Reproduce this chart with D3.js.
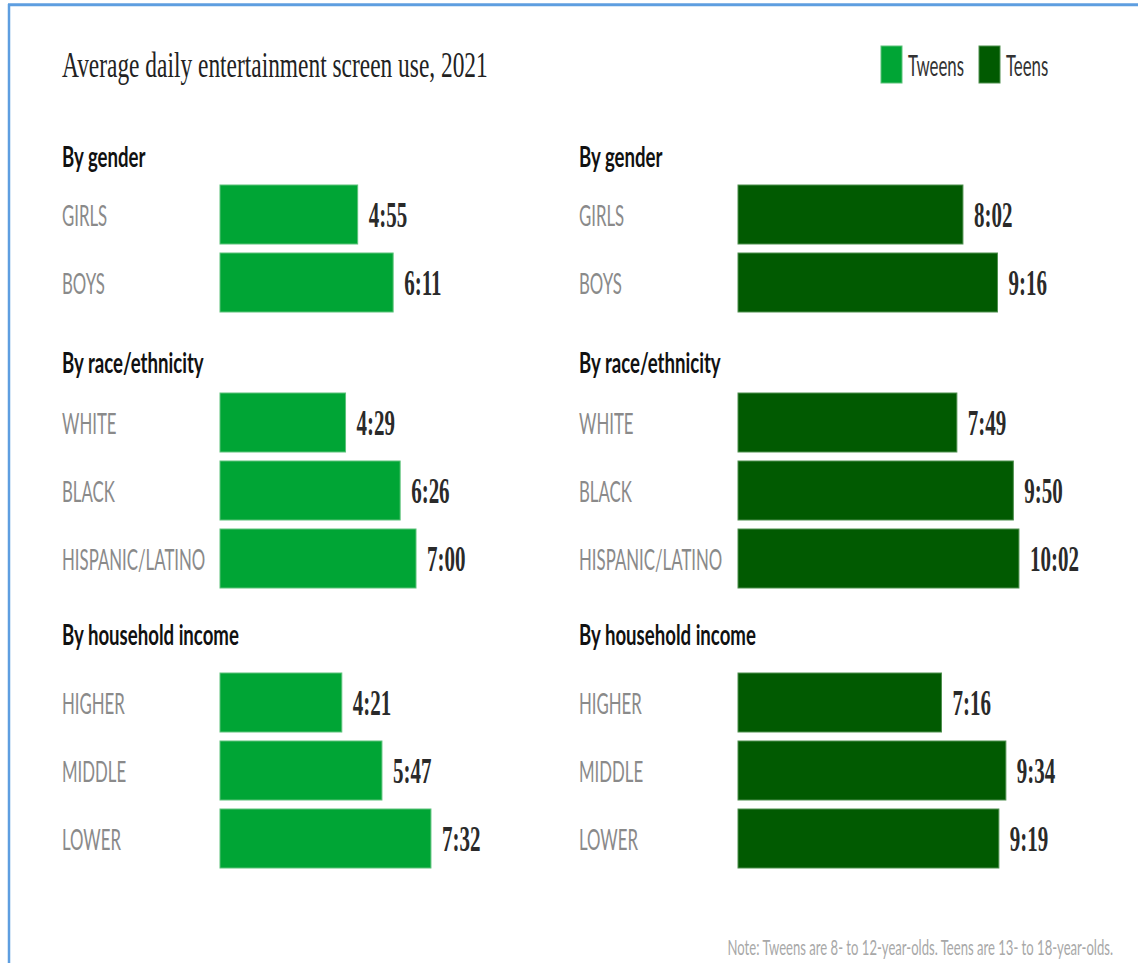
<!DOCTYPE html>
<html>
<head>
<meta charset="utf-8">
<script src="https://cdn.jsdelivr.net/npm/d3@7"></script>
<style>
  html, body { margin: 0; padding: 0; background: #fff; }
  svg { display: block; }
</style>
</head>
<body>
<div id="chart"></div>
<script>
// data (hours:minutes)
const groups = ["By gender", "By race/ethnicity", "By household income"];
const categories = [
    ["GIRLS", "BOYS"],
    ["WHITE", "BLACK", "HISPANIC/LATINO"],
    ["HIGHER", "MIDDLE", "LOWER"]
];
const tweens = [
    ["4:55", "6:11"],
    ["4:29", "6:26", "7:00"],
    ["4:21", "5:47", "7:32"]
];
const teens = [
    ["8:02", "9:16"],
    ["7:49", "9:50", "10:02"],
    ["7:16", "9:34", "9:19"]
];
const seriesNames = ["Tweens", "Teens"];
const title = "Average daily entertainment screen use, 2021";
const note = "Note: Tweens are 8- to 12-year-olds. Teens are 13- to 18-year-olds.";

const toMinutes = s => { const p = s.split(':'); return +p[0] * 60 + +p[1]; };

const W = 1138, H = 963;
const color = d3.scaleOrdinal(seriesNames, ["#00a535", "#015a01"]);
const stroke = d3.scaleOrdinal(seriesNames, ["#5cc27a", "#4f8f4f"]);

const svg = d3.select('#chart').append('svg')
    .attr('width', W)
    .attr('height', H);

// blue frame
svg.append('line').attr('x1', 9).attr('x2', 9).attr('y1', 4).attr('y2', H)
    .attr('stroke', '#5e9ee0').attr('stroke-width', 2.5);
svg.append('line').attr('x1', 8).attr('x2', W).attr('y1', 4.8).attr('y2', 4.8)
    .attr('stroke', '#5e9ee0').attr('stroke-width', 3);

// the picture is horizontally squeezed, so text gets a narrow x-scale
function addText(g, x, y, txt, opts) {
    const sx = opts.sx || 0.6;
    return g.append('text')
        .attr('transform', 'translate(' + x + ',' + y + ') scale(' + sx + ',1)')
        .attr('font-family', opts.family || 'Lato, sans-serif')
        .attr('font-size', opts.size)
        .attr('font-weight', opts.weight || 'normal')
        .attr('fill', opts.fill || '#333')
        .attr('text-anchor', opts.anchor || 'start')
        .text(txt);
}

addText(svg, 62, 77, title, { family: '"Liberation Serif", serif', size: 36, fill: '#222', sx: 0.65 });

// legend
const legend = svg.append('g');
const legendX = [881, 979];
seriesNames.forEach((s, i) => {
    legend.append('rect')
        .attr('x', legendX[i]).attr('y', 46)
        .attr('width', 21).attr('height', 37)
        .attr('fill', color(s))
        .attr('stroke', stroke(s)).attr('stroke-width', 1);
    addText(legend, legendX[i] + 27, 76, s, { size: 29, fill: '#333', sx: 0.58 });
});

// layout of sections
const headingY = [167, 373, 645];
const barTop = [185, 393, 673];
const step = 68, barH = 59;
const x = d3.scaleLinear().domain([0, 600]).range([0, 280]);

const panels = [
    { name: 'Tweens', values: tweens, labelX: 62, barX: 220 },
    { name: 'Teens', values: teens, labelX: 579, barX: 738 }
];

panels.forEach(p => {
    const g = svg.append('g');
    groups.forEach((grp, gi) => {
        addText(g, p.labelX, headingY[gi], grp, { size: 28, weight: 'bold', fill: '#111', sx: 0.665 });
        const rows = categories[gi].map((c, ci) => ({ cat: c, val: p.values[gi][ci], i: ci }));
        const y = d3.scaleBand()
            .domain(d3.range(rows.length))
            .range([barTop[gi], barTop[gi] + step * (rows.length - 1) + barH])
            .paddingInner((step - barH) / step)
            .paddingOuter(0);

        g.selectAll(null)
            .data(rows)
            .join('rect')
            .attr('x', p.barX)
            .attr('y', d => y(d.i))
            .attr('width', d => x(toMinutes(d.val)))
            .attr('height', y.bandwidth())
            .attr('fill', color(p.name))
            .attr('stroke', stroke(p.name))
            .attr('stroke-width', 1);

        rows.forEach(d => {
            const cy = y(d.i) + y.bandwidth() / 2;
            addText(g, p.labelX, cy + 11, d.cat, { size: 28, fill: '#8a8a8a' });
            addText(g, p.barX + x(toMinutes(d.val)) + 11, cy + 12, d.val,
                { family: '"Liberation Serif", serif', size: 35, weight: 'bold', fill: '#2a2a2a' });
        });
    });
});

addText(svg, 1113, 955, note, { size: 22, fill: '#a8a8a8', anchor: 'end', sx: 0.595 });
</script>
</body>
</html>
